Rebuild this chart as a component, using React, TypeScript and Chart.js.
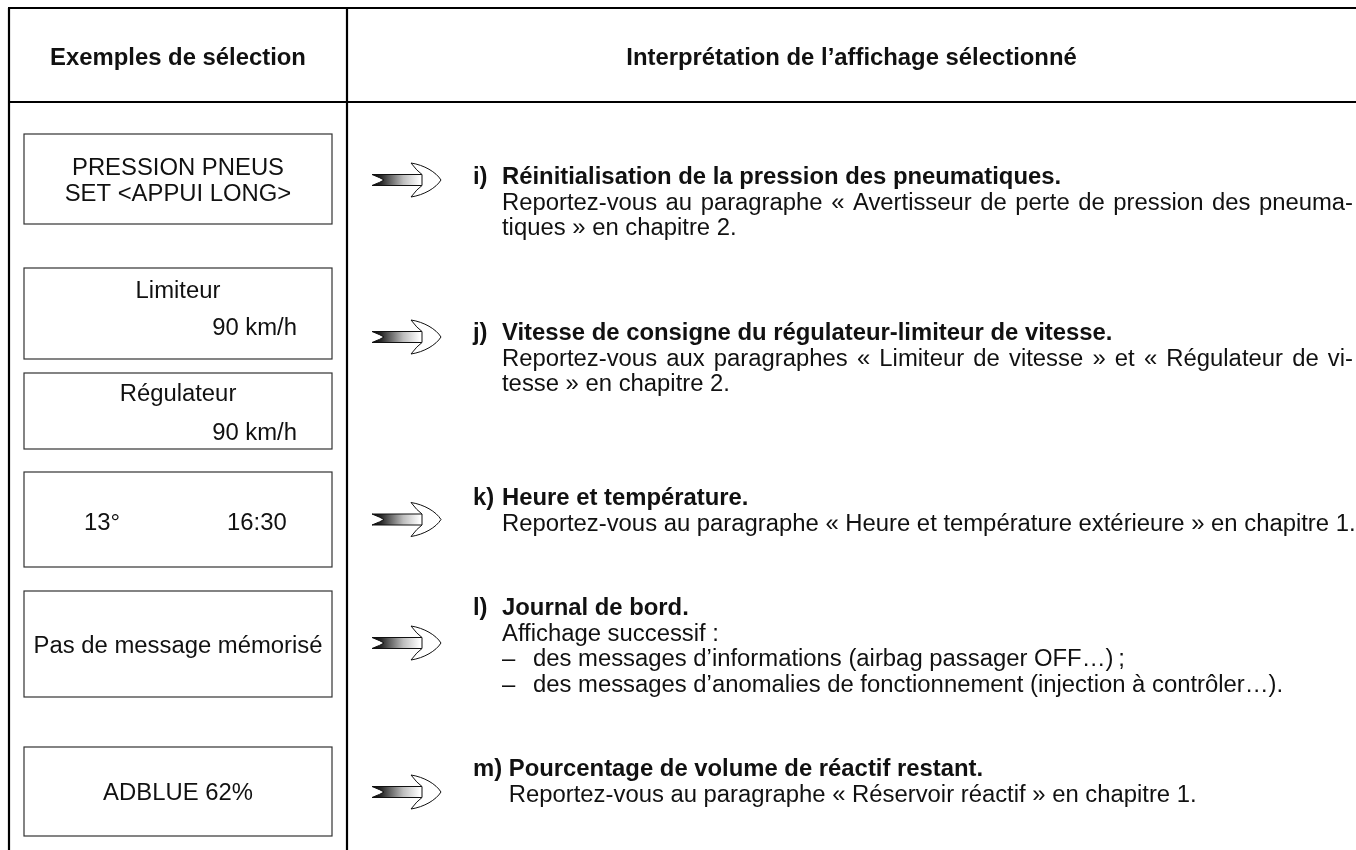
import { useEffect, useRef } from 'react';
import { Chart, registerables } from 'chart.js';

Chart.register(...registerables);

// ---------------- DATA (text content) ----------------
const HEADER_LABELS = ['Exemples de sélection', 'Interprétation de l’affichage sélectionné'];

const DISPLAY_PRESSION = ['PRESSION PNEUS', 'SET <APPUI LONG>'];
const DISPLAY_LIMITEUR = ['Limiteur', '90 km/h'];
const DISPLAY_REGULATEUR = ['Régulateur', '90 km/h'];
const DISPLAY_HEURE = ['13°', '16:30'];
const DISPLAY_JOURNAL = ['Pas de message mémorisé'];
const DISPLAY_ADBLUE = ['ADBLUE 62%'];

const ITEM_LABELS = ['i)', 'j)', 'k)', 'l)', 'm)'];
const ITEM_TITLES = [
  'Réinitialisation de la pression des pneumatiques.',
  'Vitesse de consigne du régulateur-limiteur de vitesse.',
  'Heure et température.',
  'Journal de bord.',
  'Pourcentage de volume de réactif restant.',
];
const ITEM_BODY_I = [
  'Reportez-vous au paragraphe « Avertisseur de perte de pression des pneuma-',
  'tiques » en chapitre 2.',
];
const ITEM_BODY_J = [
  'Reportez-vous aux paragraphes « Limiteur de vitesse » et « Régulateur de vi-',
  'tesse » en chapitre 2.',
];
const ITEM_BODY_K = ['Reportez-vous au paragraphe « Heure et température extérieure » en chapitre 1.'];
const ITEM_BODY_L = [
  'Affichage successif :',
  '– des messages d’informations (airbag passager OFF…)\u2009;',
  '– des messages d’anomalies de fonctionnement (injection à contrôler…).',
];
const ITEM_BODY_M = ['Reportez-vous au paragraphe « Réservoir réactif » en chapitre 1.'];
const ITEM_BODIES = [ITEM_BODY_I, ITEM_BODY_J, ITEM_BODY_K, ITEM_BODY_L, ITEM_BODY_M];

// ---------------- LAYOUT (page coordinates on the scales) ----------------
const W = 1356;
const H = 850;
const FONT = '"Liberation Sans", Arial, Helvetica, sans-serif';
const FONT_SIZE = 23.85;
const LINE_H = 25.5;

const FRAME = { left: 9, top: 8, headerBottom: 102, divider: 347, right: W, bottom: H };
const BOX = { left: 24, right: 332 };
const BOX_ROWS = [
  { top: 134, bottom: 224 },
  { top: 268, bottom: 359 },
  { top: 373, bottom: 449 },
  { top: 472, bottom: 567 },
  { top: 591, bottom: 697 },
  { top: 747, bottom: 836 },
];
const HEADER_BASELINE = 64.5;
const ARROW_CENTERS = [180, 337, 519.5, 643, 792];
const ITEM_BASELINES = [184, 340, 505, 615, 776];
const LABEL_X = 473;
const TEXT_X = 502;
const JUSTIFY_RIGHT = 1353;
const BULLET_TEXT_DX = 31;

const tablePlugin = {
  id: 'manualTable',
  beforeDraw(chart: any) {
    const { ctx } = chart;
    ctx.save();
    ctx.fillStyle = '#ffffff';
    ctx.fillRect(0, 0, chart.width, chart.height);
    ctx.restore();
  },
  afterDraw(chart: any) {
    const { ctx } = chart;
    const sx = chart.scales.x;
    const sy = chart.scales.y;
    const px = (v: number) => sx.getPixelForValue(v);
    const py = (v: number) => sy.getPixelForValue(v);

    ctx.save();
    // ---- frame lines ----
    ctx.strokeStyle = '#000';
    ctx.lineWidth = 2.2;
    const seg = (x1: number, y1: number, x2: number, y2: number) => {
      ctx.beginPath();
      ctx.moveTo(px(x1), py(y1));
      ctx.lineTo(px(x2), py(y2));
      ctx.stroke();
    };
    seg(FRAME.left - 1, FRAME.top, FRAME.right, FRAME.top);
    seg(FRAME.left - 1, FRAME.headerBottom, FRAME.right, FRAME.headerBottom);
    seg(FRAME.left, FRAME.top, FRAME.left, FRAME.bottom);
    seg(FRAME.divider, FRAME.top, FRAME.divider, FRAME.bottom);

    // ---- display boxes ----
    ctx.strokeStyle = '#333';
    ctx.lineWidth = 1.2;
    BOX_ROWS.forEach((b) => {
      ctx.strokeRect(px(BOX.left), py(b.top), px(BOX.right) - px(BOX.left), py(b.bottom) - py(b.top));
    });

    ctx.fillStyle = '#111';
    const reg = `${FONT_SIZE}px ${FONT}`;
    const bold = `bold ${FONT_SIZE}px ${FONT}`;

    // ---- headers ----
    ctx.font = bold;
    ctx.textAlign = 'center';
    ctx.textBaseline = 'alphabetic';
    ctx.fillText(HEADER_LABELS[0], px((FRAME.left + FRAME.divider) / 2), py(HEADER_BASELINE));
    ctx.fillText(HEADER_LABELS[1], px((FRAME.divider + FRAME.right) / 2), py(HEADER_BASELINE));

    // ---- display texts ----
    ctx.font = reg;
    const boxCx = (BOX.left + BOX.right) / 2;
    const mid = (i: number) => (BOX_ROWS[i].top + BOX_ROWS[i].bottom) / 2;
    const capHalf = 8.6;
    ctx.textAlign = 'center';
    ctx.fillText(DISPLAY_PRESSION[0], px(boxCx), py(mid(0) - 13 + capHalf));
    ctx.fillText(DISPLAY_PRESSION[1], px(boxCx), py(mid(0) + 13 + capHalf));

    ctx.fillText(DISPLAY_LIMITEUR[0], px(boxCx), py(BOX_ROWS[1].top + 21 + capHalf));
    ctx.fillText(DISPLAY_REGULATEUR[0], px(boxCx), py(BOX_ROWS[2].top + 19 + capHalf));
    ctx.textAlign = 'right';
    ctx.fillText(DISPLAY_LIMITEUR[1], px(BOX.right - 35), py(BOX_ROWS[1].bottom - 33 + capHalf));
    ctx.fillText(DISPLAY_REGULATEUR[1], px(BOX.right - 35), py(BOX_ROWS[2].bottom - 18 + capHalf));

    ctx.textAlign = 'left';
    ctx.fillText(DISPLAY_HEURE[0], px(84), py(mid(3) + 1.5 + capHalf));
    ctx.fillText(DISPLAY_HEURE[1], px(227), py(mid(3) + 1.5 + capHalf));

    ctx.textAlign = 'center';
    ctx.fillText(DISPLAY_JOURNAL[0], px(boxCx), py(mid(4) + capHalf));
    ctx.fillText(DISPLAY_ADBLUE[0], px(boxCx), py(mid(5) + capHalf));

    // ---- arrows ----
    ARROW_CENTERS.forEach((cy) => {
      const g = ctx.createLinearGradient(px(372), 0, px(420), 0);
      g.addColorStop(0, '#000');
      g.addColorStop(0.2, '#2a2a2a');
      g.addColorStop(0.65, '#bdbdbd');
      g.addColorStop(1, '#ffffff');
      ctx.lineWidth = 1;
      ctx.strokeStyle = '#111';
      ctx.beginPath();
      ctx.moveTo(px(372), py(cy - 5.5));
      ctx.lineTo(px(424), py(cy - 5.5));
      ctx.lineTo(px(424), py(cy + 5.5));
      ctx.lineTo(px(372), py(cy + 5.5));
      ctx.quadraticCurveTo(px(381), py(cy + 2), px(384), py(cy));
      ctx.quadraticCurveTo(px(381), py(cy - 2), px(372), py(cy - 5.5));
      ctx.closePath();
      ctx.fillStyle = g;
      ctx.fill();
      ctx.stroke();

      ctx.beginPath();
      ctx.moveTo(px(422), py(cy - 5.5));
      ctx.quadraticCurveTo(px(417), py(cy - 9), px(411), py(cy - 17));
      ctx.bezierCurveTo(px(424), py(cy - 15), px(436), py(cy - 8), px(441), py(cy));
      ctx.bezierCurveTo(px(436), py(cy + 8), px(424), py(cy + 15), px(411), py(cy + 17));
      ctx.quadraticCurveTo(px(417), py(cy + 9), px(422), py(cy + 5.5));
      ctx.closePath();
      ctx.fillStyle = '#fff';
      ctx.fill();
      ctx.stroke();
    });

    // ---- items ----
    ctx.fillStyle = '#111';
    ctx.textAlign = 'left';
    const drawJustified = (text: string, x0: number, x1: number, yb: number) => {
      const words = text.split(' ');
      const widths = words.map((w) => ctx.measureText(w).width);
      const total = widths.reduce((a, b) => a + b, 0);
      const gap = words.length > 1 ? (px(x1) - px(x0) - total) / (words.length - 1) : 0;
      let cx = px(x0);
      words.forEach((w, k) => {
        ctx.fillText(w, cx, py(yb));
        cx += widths[k] + gap;
      });
    };

    ITEM_LABELS.forEach((label, i) => {
      const yb = ITEM_BASELINES[i];
      ctx.font = bold;
      ctx.fillText(label, px(LABEL_X), py(yb));
      const labelEnd = LABEL_X + ctx.measureText(label + ' ').width;
      const tx = Math.max(TEXT_X, labelEnd);
      ctx.fillText(ITEM_TITLES[i], px(tx), py(yb));
      ctx.font = reg;
      ITEM_BODIES[i].forEach((line, k) => {
        const lb = yb + LINE_H * (k + 1);
        if (line.startsWith('– ')) {
          ctx.fillText('–', px(tx), py(lb));
          ctx.fillText(line.slice(2), px(tx + BULLET_TEXT_DX), py(lb));
        } else if (line.endsWith('-')) {
          drawJustified(line, tx, JUSTIFY_RIGHT, lb);
        } else {
          ctx.fillText(line, px(tx), py(lb));
        }
      });
    });
    ctx.restore();
  },
};

export default function App() {
  const ref = useRef<HTMLCanvasElement>(null);
  useEffect(() => {
    document.body.style.margin = '0';
    const canvas = ref.current;
    if (!canvas) return;
    const chart = new Chart(canvas, {
      type: 'scatter',
      data: { datasets: [{ data: [] }] },
      options: {
        animation: false,
        responsive: false,
        devicePixelRatio: 1,
        events: [],
        layout: { padding: 0 },
        plugins: { legend: { display: false }, tooltip: { enabled: false }, title: { display: false } },
        scales: {
          x: { type: 'linear', min: 0, max: W, display: false },
          y: { type: 'linear', min: 0, max: H, reverse: true, display: false },
        },
      },
      plugins: [tablePlugin],
    } as any);
    return () => chart.destroy();
  }, []);
  return (
    <div style={{ width: W, height: H }}>
      <canvas ref={ref} width={W} height={H} style={{ display: 'block' }} />
    </div>
  );
}
